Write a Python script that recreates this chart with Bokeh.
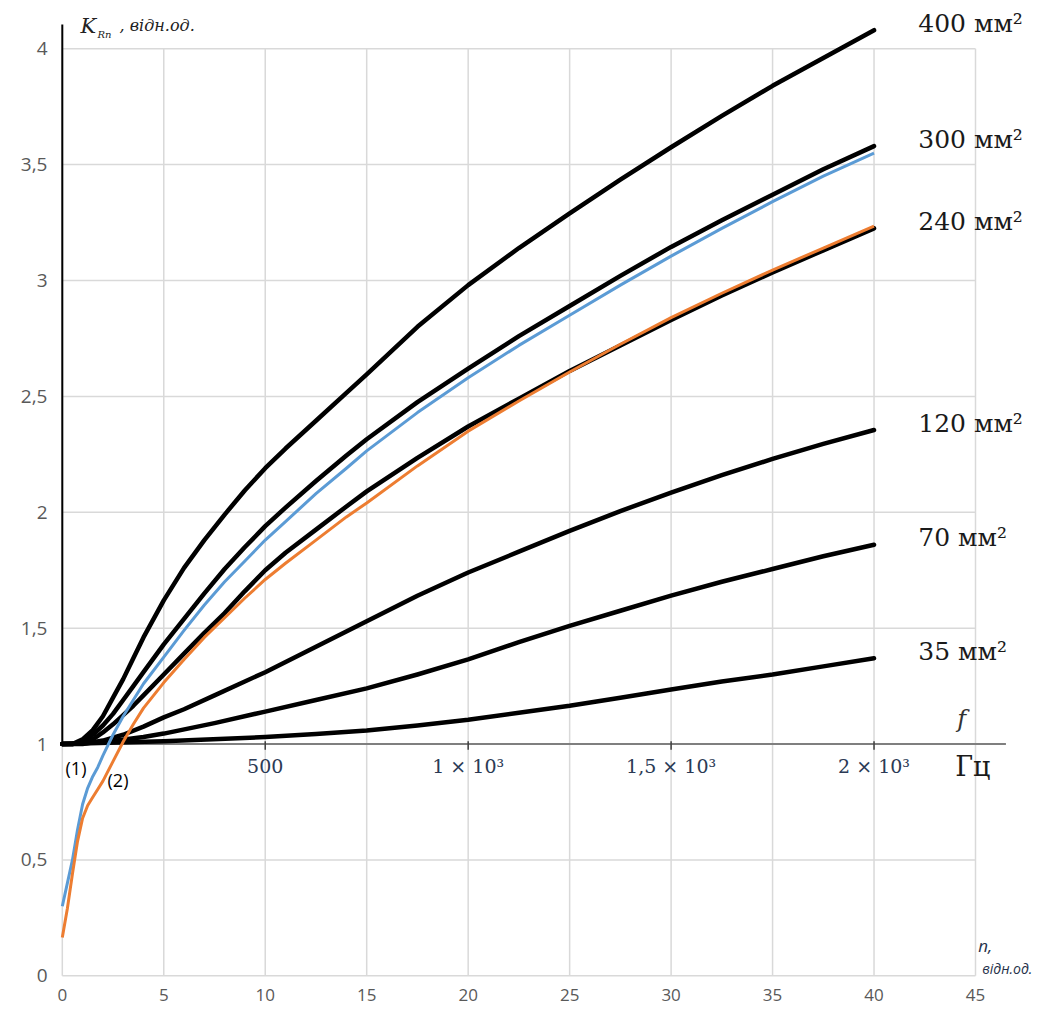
from bokeh.plotting import figure
from bokeh.models import FixedTicker
from bokeh.core.properties import value
from bokeh.embed import file_html
from bokeh.resources import INLINE

# ---------------- data ----------------
x_ticks = [0, 5, 10, 15, 20, 25, 30, 35, 40, 45]
y_ticks = [0, 0.5, 1, 1.5, 2, 2.5, 3, 3.5, 4]
y_tick_labels = ["0", "0,5", "1", "1,5", "2", "2,5", "3", "3,5", "4"]

f_base = 50  # Hz, fundamental frequency
f_ticks = [500, 1000, 1500, 2000]
f_tick_labels = ["500", "1 × 10³", "1,5 × 10³", "2 × 10³"]

n_400 = [0, 0.5, 1, 1.5, 2, 2.5, 3, 3.5, 4, 5, 6, 7, 8, 9, 10, 11, 12.5, 14, 15, 17.5, 20, 22.5, 25, 27.5, 30, 32.5, 35, 37.5, 40]
k_400 = [1.0, 1.0, 1.02, 1.06, 1.12, 1.20, 1.28, 1.37, 1.46, 1.62, 1.76, 1.88, 1.99, 2.095, 2.19, 2.275, 2.395, 2.515, 2.595, 2.80, 2.98, 3.14, 3.29, 3.435, 3.575, 3.71, 3.84, 3.96, 4.08]

n_300 = [0, 0.5, 1, 1.5, 2, 2.5, 3, 3.5, 4, 5, 6, 7, 8, 9, 10, 11, 12.5, 14, 15, 17.5, 20, 22.5, 25, 27.5, 30, 32.5, 35, 37.5, 40]
k_300 = [1.0, 1.0, 1.01, 1.04, 1.08, 1.13, 1.19, 1.25, 1.31, 1.43, 1.54, 1.65, 1.755, 1.85, 1.94, 2.02, 2.135, 2.245, 2.315, 2.475, 2.62, 2.76, 2.89, 3.02, 3.145, 3.26, 3.37, 3.48, 3.58]

n_240 = [0, 0.5, 1, 1.5, 2, 2.5, 3, 3.5, 4, 5, 6, 7, 8, 9, 10, 11, 12.5, 14, 15, 17.5, 20, 22.5, 25, 27.5, 30, 32.5, 35, 37.5, 40]
k_240 = [1.0, 1.0, 1.005, 1.02, 1.05, 1.085, 1.125, 1.165, 1.21, 1.30, 1.39, 1.48, 1.565, 1.66, 1.75, 1.825, 1.925, 2.025, 2.09, 2.235, 2.37, 2.49, 2.61, 2.72, 2.83, 2.935, 3.035, 3.13, 3.225]

n_120 = [0, 1, 2, 3, 4, 5, 6, 7.5, 10, 12.5, 15, 17.5, 20, 22.5, 25, 27.5, 30, 32.5, 35, 37.5, 40]
k_120 = [1.0, 1.0, 1.015, 1.04, 1.075, 1.115, 1.15, 1.21, 1.31, 1.42, 1.53, 1.64, 1.74, 1.83, 1.92, 2.005, 2.085, 2.16, 2.23, 2.295, 2.355]

n_70 = [0, 2, 4, 5, 7.5, 10, 12.5, 15, 17.5, 20, 22.5, 25, 27.5, 30, 32.5, 35, 37.5, 40]
k_70 = [1.0, 1.008, 1.03, 1.045, 1.09, 1.14, 1.19, 1.24, 1.30, 1.365, 1.44, 1.51, 1.575, 1.64, 1.70, 1.755, 1.81, 1.86]

n_35 = [0, 5, 10, 12.5, 15, 17.5, 20, 22.5, 25, 27.5, 30, 32.5, 35, 37.5, 40]
k_35 = [1.0, 1.012, 1.03, 1.043, 1.058, 1.08, 1.105, 1.135, 1.165, 1.20, 1.235, 1.27, 1.30, 1.335, 1.37]

n_1 = [0, 0.25, 0.5, 0.75, 1, 1.25, 1.5, 1.75, 2, 2.5, 3, 3.5, 4, 5, 6, 7, 8, 9, 10, 11, 12.5, 14, 15, 17.5, 20, 22.5, 25, 27.5, 30, 32.5, 35, 37.5, 40]
k_1 = [0.30, 0.40, 0.50, 0.63, 0.74, 0.81, 0.86, 0.90, 0.95, 1.04, 1.12, 1.19, 1.26, 1.375, 1.49, 1.60, 1.70, 1.79, 1.88, 1.96, 2.08, 2.19, 2.265, 2.43, 2.58, 2.72, 2.85, 2.98, 3.105, 3.225, 3.34, 3.45, 3.55]

n_2 = [0, 0.25, 0.5, 0.75, 1, 1.25, 1.5, 1.75, 2, 2.5, 3, 3.5, 4, 5, 6, 7, 8, 9, 10, 11, 12.5, 14, 15, 17.5, 20, 22.5, 25, 27.5, 30, 32.5, 35, 37.5, 40]
k_2 = [0.165, 0.29, 0.44, 0.58, 0.68, 0.735, 0.77, 0.805, 0.84, 0.925, 1.01, 1.085, 1.155, 1.265, 1.365, 1.46, 1.545, 1.63, 1.71, 1.78, 1.88, 1.98, 2.04, 2.20, 2.35, 2.48, 2.605, 2.725, 2.84, 2.945, 3.045, 3.14, 3.235]

sections = ["400 мм²", "300 мм²", "240 мм²", "120 мм²", "70 мм²", "35 мм²"]
black_n = [n_400, n_300, n_240, n_120, n_70, n_35]
black_k = [k_400, k_300, k_240, k_120, k_70, k_35]

# ---------------- figure ----------------
p = figure(width=1058, height=1012, x_range=(-0.286, 49.09), y_range=(-0.029, 4.165),
           output_backend="svg", toolbar_location=None,
           min_border_left=56, min_border_right=0, min_border_top=10, min_border_bottom=30)
p.outline_line_color = None
p.background_fill_color = "white"
p.xgrid.visible = False
p.ygrid.visible = False

for ax in (p.xaxis, p.yaxis):
    ax.axis_line_color = None
    ax.major_tick_line_color = None
    ax.minor_tick_line_color = None
    ax.major_tick_out = 0
    ax.major_tick_in = 0
    ax.major_label_text_font = "Open Sans"
    ax.major_label_text_color = "#595959"
p.xaxis.major_label_text_font_size = "17px"
p.yaxis.major_label_text_font_size = "19px"
p.xaxis.ticker = FixedTicker(ticks=x_ticks)
p.xaxis.major_label_standoff = 6
p.yaxis.ticker = FixedTicker(ticks=y_ticks)
p.yaxis.major_label_standoff = 9
p.yaxis.major_label_overrides = {t: s for t, s in zip(y_ticks, y_tick_labels)}

# grid lines
p.segment(x0=x_ticks, y0=[y_ticks[0]] * len(x_ticks), x1=x_ticks, y1=[y_ticks[-1]] * len(x_ticks),
          line_color="#d9d9d9", line_width=1.5)
p.segment(x0=[x_ticks[0]] * len(y_ticks), y0=y_ticks, x1=[x_ticks[-1]] * len(y_ticks), y1=y_ticks,
          line_color="#d9d9d9", line_width=1.5)

# K axis (black) from 1 upward
p.segment(x0=[0], y0=[1], x1=[0], y1=[4.105], line_color="black", line_width=2)

# f axis at K = 1
p.segment(x0=[0], y0=[1], x1=[46.5], y1=[1], line_color="#7f7f7f", line_width=2)
n_f = [f / f_base for f in f_ticks]
p.segment(x0=n_f, y0=[1.012] * len(n_f), x1=n_f, y1=[0.975] * len(n_f), line_color="#404040", line_width=1.5)
p.text(x=n_f, y=[0.905] * len(n_f), text=f_tick_labels, text_align="center", text_baseline="middle",
       text_font=value("DejaVu Serif"), text_font_size="19px", text_color="#2b3a55")

# black curves
for nn, kk in zip(black_n, black_k):
    p.line(nn, kk, line_color="black", line_width=4.5, line_join="round", line_cap="round")

# coloured curves
p.line(n_1, k_1, line_color="#5B9BD5", line_width=3, line_join="round")
p.line(n_2, k_2, line_color="#ED7D31", line_width=3, line_join="round")

# section labels at curve ends
p.text(x=[42.18] * len(sections), y=[k[-1] + 0.03 for k in black_k], text=sections,
       text_align="left", text_baseline="middle", text_font=value("DejaVu Serif"),
       text_font_size="25px", text_color="#1a1a1a")

# curve markers
p.text(x=[0.16, 2.23], y=[0.895, 0.843], text=["(1)", "(2)"], text_align="left", text_baseline="middle",
       text_font=value("Open Sans"), text_font_size="18px", text_color="black")

# axis titles
p.text(x=[0.9], y=[4.10], text=["K"], text_align="left", text_baseline="middle",
       text_font=value("DejaVu Serif"), text_font_style="italic", text_font_size="21px", text_color="#222222")
p.text(x=[1.73], y=[4.062], text=["Rn"], text_align="left", text_baseline="middle",
       text_font=value("DejaVu Serif"), text_font_style="italic", text_font_size="10px", text_color="#222222")
p.text(x=[2.82], y=[4.10], text=[", відн.од."], text_align="left", text_baseline="middle",
       text_font=value("DejaVu Serif"), text_font_style="italic", text_font_size="16px", text_color="#222222")

p.text(x=[44.1], y=[1.11], text=["f"], text_align="left", text_baseline="middle",
       text_font=value("DejaVu Serif"), text_font_style="italic", text_font_size="24px", text_color="#333333")
p.text(x=[44.0], y=[0.905], text=["Гц"], text_align="left", text_baseline="middle",
       text_font=value("DejaVu Serif"), text_font_size="27px", text_color="#1a1a1a")

p.text(x=[45.13], y=[0.131], text=["n,"], text_align="left", text_baseline="middle",
       text_font=value("Open Sans"), text_font_style="italic", text_font_size="17px", text_color="#26324a")
p.text(x=[45.33], y=[0.031], text=["відн.од."], text_align="left", text_baseline="middle",
       text_font=value("Open Sans"), text_font_style="italic", text_font_size="14px", text_color="#26324a")

open("out.html", "w").write(file_html(p, INLINE))
